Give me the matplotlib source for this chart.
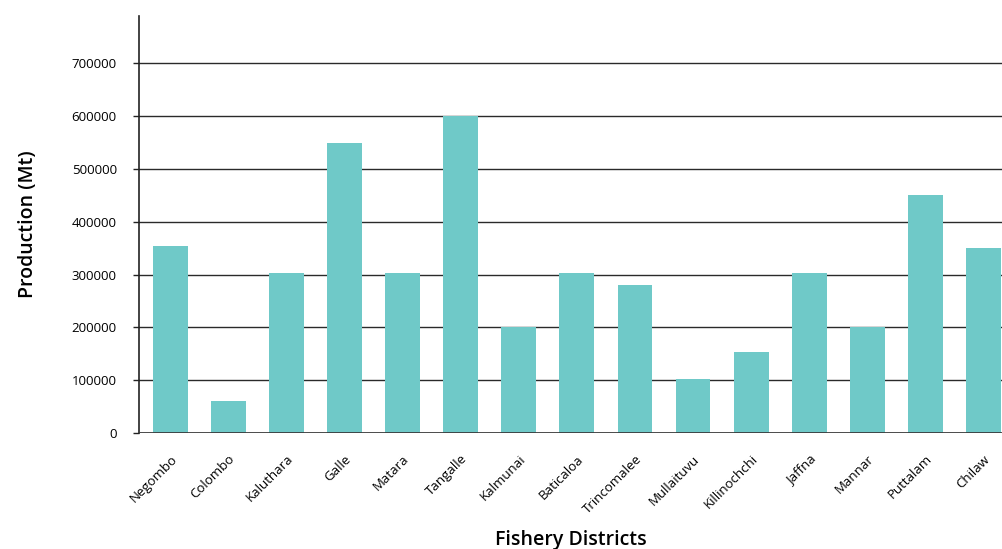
import numpy as np
import matplotlib.pyplot as plt

plt.rcParams['font.family'] = ['Open Sans', 'DejaVu Sans']

districts = ["Negombo", "Colombo", "Kaluthara", "Galle", "Matara", "Tangalle",
             "Kalmunai", "Baticaloa", "Trincomalee", "Mullaituvu", "Killinochchi",
             "Jaffna", "Mannar", "Puttalam", "Chilaw"]
production = [354000, 60000, 303000, 550000, 303000, 600000,
              200000, 303000, 280000, 103000, 153000,
              303000, 200000, 450000, 350000]
y_ticks = [0, 100000, 200000, 300000, 400000, 500000, 600000, 700000]

fig = plt.figure(figsize=(10.02, 5.49), dpi=100)
ax = fig.add_axes([0.1387, 0.2113, 0.8613, 0.7596])

x = np.arange(len(districts))
ax.bar(x, production, width=0.6, color='#6fc9c8', zorder=2)

# horizontal gridlines across the plot
for t in y_ticks[1:]:
    ax.axhline(t, color='#2a2a2a', linewidth=1.0, zorder=1)
ax.axhline(0, color='#3a3a3a', linewidth=2.0, zorder=3)

ax.set_xlim(-0.54, 14.32)
ax.set_ylim(0, 790000)
ax.set_yticks(y_ticks)
ax.set_yticklabels([str(t) for t in y_ticks], fontsize=9.5)
ax.set_xticks(x)
ax.set_xticklabels(districts, rotation=45, ha='right', va='top',
                   rotation_mode='anchor', fontsize=9.5)

for side in ['top', 'right', 'bottom']:
    ax.spines[side].set_visible(False)
ax.spines['left'].set_color('#222222')
ax.spines['left'].set_linewidth(1.2)
ax.tick_params(axis='y', length=4, width=1, color='#222222', pad=12)
ax.tick_params(axis='x', length=0, pad=14)

ax.set_ylabel('Production (Mt)', fontsize=14, fontweight='semibold', labelpad=24)
ax.set_xlabel('Fishery Districts', fontsize=14, fontweight='semibold', labelpad=10)

fig.savefig('out.png', dpi=100)
